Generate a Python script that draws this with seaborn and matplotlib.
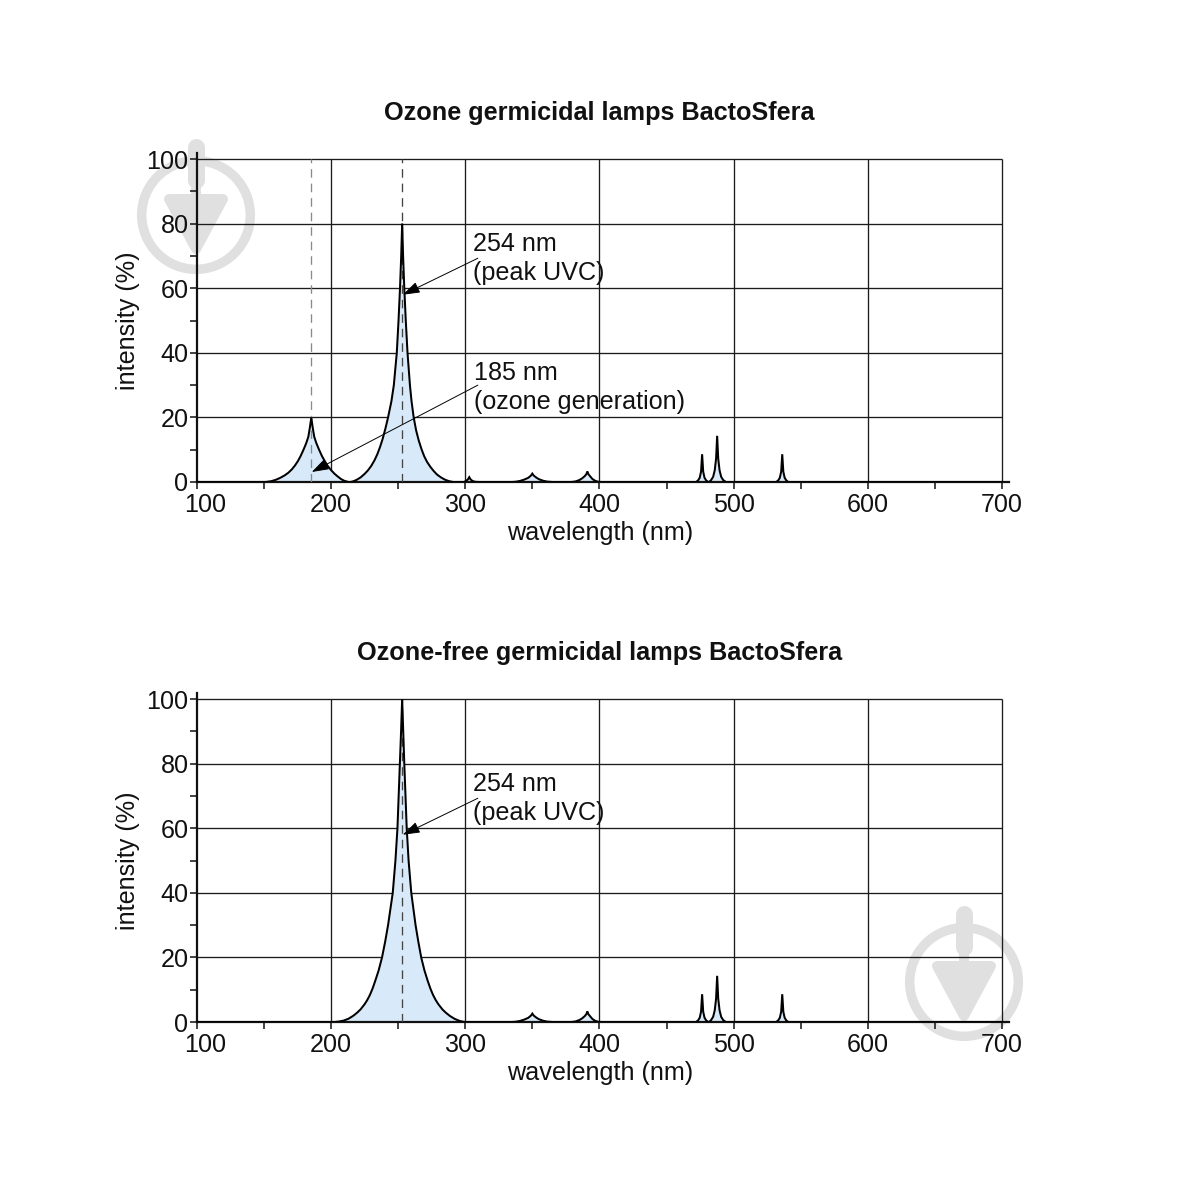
import matplotlib
matplotlib.use("Agg")
import matplotlib.pyplot as plt
from matplotlib.patches import Circle, Polygon
from matplotlib.transforms import ScaledTranslation
import pandas as pd
import seaborn as sns

# ---------- data ----------
tail_wave = [335, 338, 341, 344, 347, 349, 350, 351, 353, 355, 358, 361, 365,
             379, 382, 385, 387, 389, 390.2, 391, 391.8, 393.2, 394.7, 396.7, 398.7, 401,
             472, 473.5, 474.7, 475.7, 476.5, 477.3, 478.3, 479.5, 481,
             481.7, 483.2, 484.7, 485.9, 486.9, 487.7, 488.5, 489.5, 490.7, 492.2, 494.2,
             531.7, 533.2, 534.4, 535.4, 536.2, 537, 538, 539.2, 540.7, 700]
tail_int = [0, 0.1, 0.35, 0.75, 1.3, 2.0, 2.6, 2.0, 1.35, 0.85, 0.4, 0.12, 0,
            0, 0.15, 0.6, 1.1, 1.8, 2.4, 3.3, 2.4, 1.7, 0.95, 0.4, 0.1, 0,
            0, 0.5, 1.3, 3.2, 8.6, 3.2, 1.3, 0.5, 0,
            0, 0.6, 1.6, 3.6, 7.2, 14.3, 7.2, 3.6, 1.6, 0.6, 0,
            0, 0.5, 1.3, 3.2, 8.6, 3.2, 1.3, 0.5, 0, 0]

ozone_wave = [100, 151.3, 155.5, 159, 162, 165.3, 168.3, 170.8, 173.3, 175.5, 177.3, 179.5, 181.5, 183.1, 184.3, 185.3,
              186.3, 187.5, 189.1, 191.1, 193.3, 195.3, 197.5, 200, 202.5, 205, 207.5, 210, 213,
              214.5, 216.5, 219, 222, 225, 227.5, 230, 232.5, 234.5, 236.5, 238.5, 240.5, 242.5,
              245, 246.8, 249, 250.3, 251.4, 252.3, 253,
              253.7, 254.6, 255.7, 257, 258.8, 260, 261.6, 263.4, 265.4, 267.4, 269.4, 271.6, 274,
              276.5, 279, 282, 285, 288, 291,
              294, 299, 300.5, 302, 303, 304, 305.5, 307.5, 310.5] + tail_wave
ozone_int = [0, 0, 0.25, 0.7, 1.25, 2, 2.9, 3.9, 5.2, 6.6, 8, 10, 12, 14, 17, 20,
             17, 14, 12, 10, 8, 6.5, 5, 3.7, 2.6, 1.7, 0.9, 0.35, 0,
             0, 0.2, 0.65, 1.4, 2.5, 3.6, 5, 6.8, 8.6, 10.8, 13.4, 16.5, 20,
             25, 30, 40, 50, 60, 70, 80,
             70, 60, 50, 40, 30, 25, 20, 16, 12.8, 10.2, 8, 6.2, 4.7,
             3.4, 2.3, 1.4, 0.7, 0.25, 0,
             0, 0, 0.3, 0.8, 1.5, 0.8, 0.3, 0.05, 0] + tail_int

free_wave = [100, 203, 206, 209.5, 213, 216.5, 219.5, 222, 225, 227, 229, 231, 233, 235.5, 238,
             240.4, 242.5, 246, 248, 249.5, 250.4, 251.3, 252.2, 253,
             253.8, 254.6, 255.5, 256.4, 257.8, 259.8, 263, 265, 267.2, 269.6, 272, 274, 276, 278, 280,
             283, 285.5, 288.5, 292, 295, 297.5, 300] + tail_wave
free_int = [0, 0, 0.15, 0.45, 1, 1.9, 2.9, 3.9, 5.5, 6.8, 8.4, 10.4, 12.8, 16, 20,
            25, 30, 40, 50, 60, 70, 80, 90, 100,
            90, 80, 70, 60, 50, 40, 30, 25, 20, 16, 12.8, 10.4, 8.4, 6.8, 5.5,
            3.9, 2.9, 1.9, 1, 0.45, 0.15, 0] + tail_int

titles = ["Ozone germicidal lamps BactoSfera", "Ozone-free germicidal lamps BactoSfera"]
x_major = [100, 200, 300, 400, 500, 600, 700]
x_minor = [150, 250, 350, 450, 550, 650]
y_major = [0, 20, 40, 60, 80, 100]
y_minor = [10, 30, 50, 70, 90]
xlabel = "wavelength (nm)"
ylabel = "intensity (%)"
peak_185 = 185.3
peak_254 = 253

# ---------- figure ----------
sns.set_style("ticks")
plt.rcParams["font.family"] = ["Liberation Sans", "DejaVu Sans"]
W = 1181
fig = plt.figure(figsize=(W / 100, W / 100), dpi=100, facecolor="white")
FS = 18.1
px = 0.72  # points per pixel


def watermark(bg, cx, cy):
    col = "#e0e0e0"
    bg.add_patch(Circle((cx, cy), 54.3, fill=False, ec=col, lw=9.5 * px))
    bg.plot([cx, cx], [cy - 68, cy - 35], color=col, lw=17 * px, solid_capstyle="round")
    bg.plot([cx, cx], [cy - 35, cy - 18], color=col, lw=10 * px, solid_capstyle="butt")
    bg.add_patch(Polygon([(cx - 27, cy - 16), (cx + 27, cy - 16), (cx, cy + 34)],
                         closed=True, fc=col, ec=col, lw=10 * px, joinstyle="round"))


bg = fig.add_axes([0, 0, 1, 1], zorder=0)
bg.set_xlim(0, W)
bg.set_ylim(W, 0)
bg.axis("off")
watermark(bg, 196, 215)
watermark(bg, 964, 982)


def panel(y_bottom_px, wave, inten, title, dashes, notes, arrows):
    ax = fig.add_axes([196.8 / W, 1 - y_bottom_px / W, 812 / W, 329 / W], zorder=1)
    ax.patch.set_visible(False)
    ax.set_xlim(100, 705)
    ax.set_ylim(0, 101.9)
    ax.hlines(y_major[1:], 100, 700, color="#1c1c1c", lw=0.95, zorder=1)
    ax.vlines(x_major[1:], 0, 100, color="#1c1c1c", lw=0.95, zorder=1)
    ax.fill_between(wave, inten, 0, color="#d8eaf9", lw=0, zorder=2)
    for x, c in dashes:
        ax.vlines(x, 0, 100, color=c, lw=0.95, linestyles=(0, (6.5, 4.5)), zorder=3)
    df = pd.DataFrame({"wavelength": wave, "intensity": inten})
    sns.lineplot(data=df, x="wavelength", y="intensity", ax=ax, sort=False, estimator=None,
                 color="black", lw=1.45, zorder=4, solid_joinstyle="miter")
    ax.set_xticks(x_major)
    ax.set_xticks(x_minor, minor=True)
    ax.set_yticks(y_major)
    ax.set_yticks(y_minor, minor=True)
    ax.tick_params(axis="both", which="both", direction="out", length=5.2, width=1.1,
                   color="#111111", labelsize=FS, labelcolor="#111111")
    ax.tick_params(axis="x", which="major", pad=3)
    ax.tick_params(axis="y", which="major", pad=0.8)
    first = ax.get_xticklabels()[0]
    first.set_transform(first.get_transform() + ScaledTranslation(8 / 100, 0, fig.dpi_scale_trans))
    sns.despine(ax=ax)
    for s in ("left", "bottom"):
        ax.spines[s].set_linewidth(1.6)
        ax.spines[s].set_color("#111111")
    ax.set_xlabel(xlabel, fontsize=FS, color="#111111", labelpad=2.5, x=0.497)
    ax.set_ylabel(ylabel, fontsize=FS, color="#111111")
    ax.yaxis.set_label_coords(-0.0695, 0.49)
    ax.text(400, 114.2, title, fontsize=18.2, fontweight="bold", ha="center", va="center",
            color="#111111")
    for x, y, s in notes:
        ax.text(x, y, s, fontsize=FS, ha="left", va="center", color="#111111", zorder=6)
    for start, tip in arrows:
        ax.annotate("", xy=tip, xytext=start, zorder=6,
                    arrowprops=dict(arrowstyle="-|>,head_length=0.75,head_width=0.25",
                                    mutation_scale=14, lw=0.7, color="black",
                                    shrinkA=0, shrinkB=0))
    return ax


panel(482, ozone_wave, ozone_int, titles[0],
      [(peak_185, "#8a8a8a"), (peak_254, "#444444")],
      [(305.7, 73.7, "254 nm"), (305.7, 64.8, "(peak UVC)"),
       (306.5, 33.7, "185 nm"), (306.5, 24.7, "(ozone generation)")],
      [((309.4, 69.3), (253.5, 58)), ((309.4, 30), (185.7, 3.1))])

panel(1022, free_wave, free_int, titles[1],
      [(peak_254, "#444444")],
      [(305.7, 73.7, "254 nm"), (305.7, 64.8, "(peak UVC)")],
      [((309.4, 69.3), (253.5, 58))])

fig.savefig("out.png", dpi=100, facecolor="white")
